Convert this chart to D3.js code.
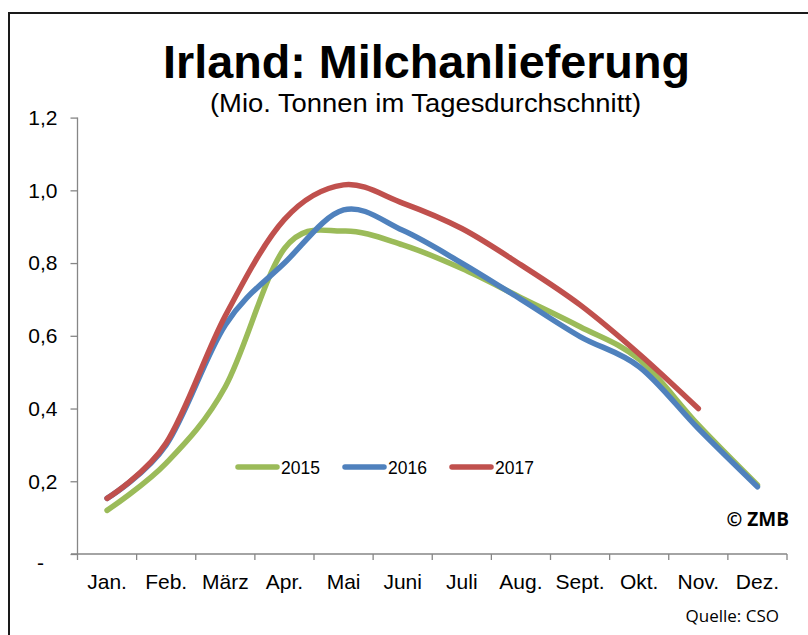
<!DOCTYPE html>
<html>
<head>
<meta charset="utf-8">
<script src="https://cdn.jsdelivr.net/npm/d3@7"></script>
<style>
  html, body { margin: 0; padding: 0; background: #fff; }
  svg { display: block; }
  text { font-family: "Liberation Sans", Arial, sans-serif; fill: #000; }
</style>
</head>
<body>
<svg id="chart" width="808" height="635"></svg>
<script>
const months = ["Jan.","Feb.","März","Apr.","Mai","Juni","Juli","Aug.","Sept.","Okt.","Nov.","Dez."];
const series2015 = [0.12, 0.25, 0.46, 0.84, 0.888, 0.85, 0.785, 0.705, 0.625, 0.535, 0.355, 0.19];
const series2016 = [0.153, 0.30, 0.63, 0.80, 0.946, 0.89, 0.80, 0.70, 0.598, 0.515, 0.345, 0.185];
const series2017 = [0.153, 0.305, 0.655, 0.92, 1.015, 0.965, 0.895, 0.795, 0.685, 0.55, 0.40];
const yTicks = [0, 0.2, 0.4, 0.6, 0.8, 1.0, 1.2];
const seriesNames = ["2015", "2016", "2017"];
const seriesColors = ["#9BBB59", "#4F81BD", "#C0504D"];
const allSeries = [series2015, series2016, series2017];

const svg = d3.select("#chart");

// frame
svg.append("path")
  .attr("d", "M9,640 L9,13 L812,13")
  .attr("fill", "none").attr("stroke", "#1a1a1a").attr("stroke-width", 2);

// title
svg.append("text").attr("x", 163).attr("y", 78)
  .attr("textLength", 527).attr("lengthAdjust", "spacingAndGlyphs")
  .style("font-size", "46px").style("font-weight", "bold")
  .text("Irland: Milchanlieferung");
svg.append("text").attr("x", 210).attr("y", 112)
  .attr("textLength", 431).attr("lengthAdjust", "spacingAndGlyphs")
  .style("font-size", "25px")
  .text("(Mio. Tonnen im Tagesdurchschnitt)");

const x = d3.scaleBand().domain(months).range([77.5, 787]).paddingInner(0).paddingOuter(0);
const y = d3.scaleLinear().domain([0, 1.2]).range([554, 117.6]);

const axisColor = "#868686";

// y axis
const yAxis = svg.append("g").attr("transform", "translate(77.5,0)")
  .call(d3.axisLeft(y).tickValues(yTicks).tickSize(7).tickPadding(13)
    .tickFormat(d => d === 0 ? "" : d3.format(".1f")(d).replace(".", ",")));
yAxis.selectAll("path, line").attr("stroke", axisColor).attr("stroke-width", 1.3);
yAxis.select(".domain").attr("d", `M0,${y(0)}V${y(1.2)}`);
yAxis.selectAll("text").style("font-size", "21px").style("font-family", "Liberation Sans, Arial, sans-serif").attr("fill", "#000");
// zero label
svg.append("text").attr("x", 44).attr("y", y(0) + 16).attr("text-anchor", "end")
  .style("font-size", "21px").text("-");

// x axis
const xAxisG = svg.append("g").attr("transform", `translate(0,${y(0)})`);
xAxisG.append("line").attr("x1", 71).attr("x2", x.range()[1]).attr("y1", 0).attr("y2", 0)
  .attr("stroke", axisColor).attr("stroke-width", 1.3);
const boundaries = months.map(m => x(m)).concat([x(months[months.length - 1]) + x.bandwidth()]);
xAxisG.selectAll("line.tick").data(boundaries).enter().append("line")
  .attr("class", "tick").attr("x1", d => d).attr("x2", d => d).attr("y1", 0).attr("y2", 6)
  .attr("stroke", axisColor).attr("stroke-width", 1.3);
xAxisG.selectAll("text.lbl").data(months).enter().append("text")
  .attr("class", "lbl").attr("x", d => x(d) + x.bandwidth() / 2).attr("y", 35)
  .attr("text-anchor", "middle").style("font-size", "21px").text(d => d);

// lines
const line = d3.line()
  .x((d, i) => x(months[i]) + x.bandwidth() / 2)
  .y(d => y(d))
  .curve(d3.curveCardinal);

allSeries.forEach((s, k) => {
  svg.append("path").datum(s)
    .attr("d", line)
    .attr("fill", "none")
    .attr("stroke", seriesColors[k])
    .attr("stroke-width", 5.5)
    .attr("stroke-linecap", "round")
    .attr("stroke-linejoin", "round");
});

// legend
const legendX = [238, 345, 452];
seriesNames.forEach((name, k) => {
  const g = svg.append("g").attr("transform", `translate(${legendX[k]},467)`);
  g.append("line").attr("x1", 0).attr("x2", 39).attr("y1", 0).attr("y2", 0)
    .attr("stroke", seriesColors[k]).attr("stroke-width", 5.5).attr("stroke-linecap", "round");
  g.append("text").attr("x", 43).attr("y", 6.5).style("font-size", "17.5px").text(name);
});

// credits
svg.append("text").attr("x", 789).attr("y", 526).attr("text-anchor", "end")
  .style("font-family", "'Open Sans', sans-serif").style("font-weight", "bold").style("font-size", "19px")
  .text("© ZMB");
svg.append("text").attr("x", 779).attr("y", 622).attr("text-anchor", "end")
  .style("font-family", "'Open Sans', sans-serif").style("font-size", "17px")
  .text("Quelle: CSO");
</script>
</body>
</html>
